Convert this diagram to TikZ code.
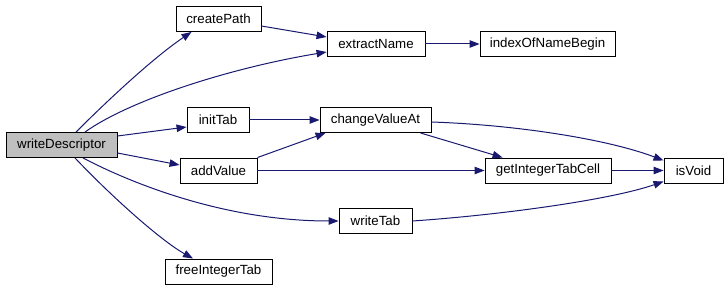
\documentclass[tikz,border=0pt]{standalone}
\usepackage{fontspec}
\setmainfont{Liberation Sans}
\usetikzlibrary{arrows.meta}
\definecolor{edgeblue}{HTML}{191970}
\definecolor{focusgray}{HTML}{BFBFBF}
\begin{document}
\begin{tikzpicture}[x=1pt,y=-1pt,
  fn/.style={draw=black,line width=0.9pt,fill=white,minimum height=25pt,inner sep=0pt,
    font=\fontsize{13.3}{16}\selectfont},
  call/.style={draw=edgeblue,line width=1pt,-{Triangle[length=10pt,width=7.5pt]},fill=none}]
\useasboundingbox (0,0) rectangle (728,291);
% functions
\node[fn,fill=focusgray,minimum width=111pt] (wd) at (61.5,145) {writeDescriptor};
\node[fn,minimum width=85pt]  (cp)   at (218.5,19)    {createPath};
\node[fn,minimum width=98pt]  (en)   at (376,44)      {extractName};
\node[fn,minimum width=135pt] (ionb) at (547.5,44)    {indexOfNameBegin};
\node[fn,minimum width=62pt]  (it)   at (218,120)     {initTab};
\node[fn,minimum width=111pt] (cva)  at (375.5,120)   {changeValueAt};
\node[fn,minimum width=77pt]  (av)   at (218.5,170.5) {addValue};
\node[fn,minimum width=126pt] (gitc) at (548,170.5)   {getIntegerTabCell};
\node[fn,minimum width=59pt]  (iv)   at (693.5,170.5) {isVoid};
\node[fn,minimum width=73pt]  (wt)   at (375.5,221)   {writeTab};
\node[fn,minimum width=107pt] (fit)  at (218.5,271.5) {freeIntegerTab};
% calls
\draw[call] ([xshift=14.5pt]wd.north) .. controls (100,108) and (150,60) .. ([xshift=-27pt]cp.south);
\draw[call] ([xshift=23.5pt]wd.north) .. controls (130,100) and (230,68) .. ([yshift=-8pt]en.west);
\draw[call] ([yshift=-7pt]cp.east) -- ([yshift=7pt]en.west);
\draw[call] ([yshift=9pt]wd.east) -- ([yshift=-7pt]it.west);
\draw[call] ([yshift=-8pt]wd.east) -- ([yshift=5.5pt]av.west);
\draw[call] ([xshift=21.5pt]wd.south) .. controls (125,180) and (220,221) .. (wt.west);
\draw[call] ([xshift=13.5pt]wd.south) .. controls (110,195) and (160,240) .. ([xshift=-25.5pt]fit.north);
\draw[call] (it.east) -- (cva.west);
\draw[call] (av.north east) -- ([xshift=6pt]cva.south west);
\draw[call] (av.east) -- (gitc.west);
\draw[call] ([xshift=-11pt]cva.south east) -- ([xshift=18pt]gitc.north west);
\draw[call] ([yshift=-2pt]cva.east) .. controls (520,125) and (610,140) .. ([yshift=10pt]iv.west);
\draw[call] (gitc.east) -- (iv.west);
\draw[call] (wt.east) .. controls (500,215) and (610,200) .. ([yshift=-11pt]iv.west);
\draw[call] (en.east) -- (ionb.west);
\end{tikzpicture}
\end{document}
